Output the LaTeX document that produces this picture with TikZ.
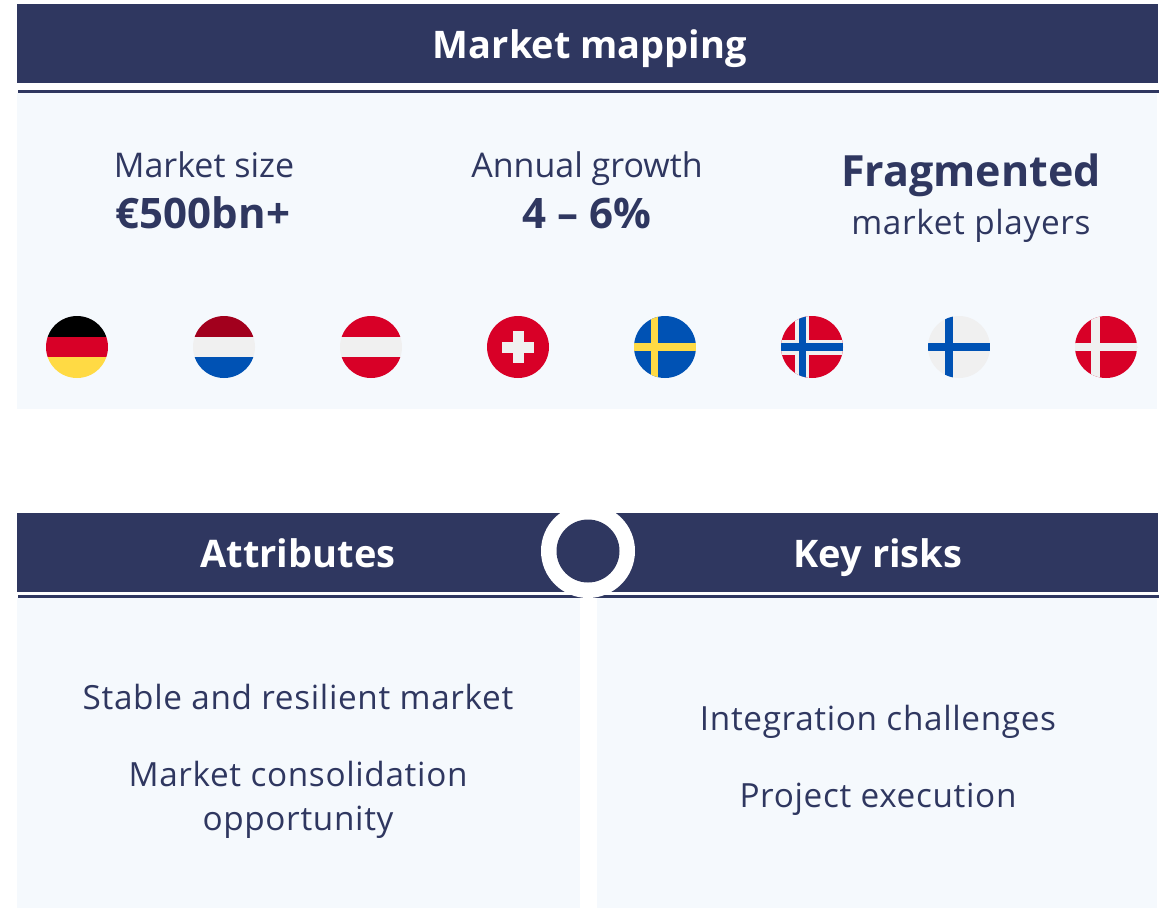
\documentclass[tikz,border=0pt]{standalone}
\usepackage{fontspec}
\setmainfont{Open Sans}
\newfontfamily\spacedfont[LetterSpace=2]{Open Sans}
\definecolor{navy}{HTML}{2F3760}
\definecolor{panel}{HTML}{F5F9FD}
\definecolor{flagred}{HTML}{D80027}
\definecolor{flagdred}{HTML}{A2001D}
\definecolor{flagwhite}{HTML}{F0F0F0}
\definecolor{flagblue}{HTML}{0052B4}
\definecolor{flagyellow}{HTML}{FFDA44}
\tikzset{
  hdr/.style={font=\fontsize{38}{44}\selectfont\bfseries, text=white, anchor=base, inner sep=0},
  big/.style={font=\fontsize{42}{48}\selectfont\bfseries, text=navy, anchor=base, inner sep=0},
  bigger/.style={font=\fontsize{43}{49}\selectfont\bfseries, text=navy, anchor=base, inner sep=0},
  lbl/.style={font=\fontsize{34}{40}\selectfont, text=navy, anchor=base, inner sep=0},
  body/.style={font=\spacedfont\fontsize{33.3}{38}\selectfont, text=navy, anchor=base, inner sep=0},
}
\begin{document}
\begin{tikzpicture}[x=1pt,y=-1pt]
\useasboundingbox[fill=white] (0,0) rectangle (1173,908);
% top header
\fill[navy] (17,4) rectangle (1158,83);
\fill[navy] (18,89.5) rectangle (1159,92.5);
\fill[panel] (17,93) rectangle (1157,409);
\node[hdr] (title) at (590,58) {Market mapping};
\node[lbl] (msize) at (204,177) {Market size};
\node[big] (mval) at (203,228) {€500bn+};
\node[lbl] (agrow) at (587,177) {Annual growth};
\node[big] (aval) at (587,228) {4 – 6\%};
\node[bigger] (frag) at (971,186) {Fragmented};
\node[body] (mplay) at (971,234) {market players};
% flags
\begin{scope}[shift={(77,347)}]
  \clip (0,0) circle (31pt);
  \fill[black] (-32,-32) rectangle (32,-10.3);
  \fill[flagred] (-32,-10.3) rectangle (32,10.3);
  \fill[flagyellow] (-32,10.3) rectangle (32,32);
\end{scope}
\begin{scope}[shift={(224,347)}]
  \clip (0,0) circle (31pt);
  \fill[flagdred] (-32,-32) rectangle (32,-10.3);
  \fill[flagwhite] (-32,-10.3) rectangle (32,10.3);
  \fill[flagblue] (-32,10.3) rectangle (32,32);
\end{scope}
\begin{scope}[shift={(371,347)}]
  \clip (0,0) circle (31pt);
  \fill[flagred] (-32,-32) rectangle (32,-10.3);
  \fill[flagwhite] (-32,-10.3) rectangle (32,10.3);
  \fill[flagred] (-32,10.3) rectangle (32,32);
\end{scope}
\begin{scope}[shift={(518,347)}]
  \fill[flagred] (0,0) circle (31pt);
  \fill[flagwhite] (-16,-5.5) rectangle (16,5.5);
  \fill[flagwhite] (-5.5,-16) rectangle (5.5,16);
\end{scope}
\begin{scope}[shift={(665,347)}]
  \clip (0,0) circle (31pt);
  \fill[flagblue] (-32,-32) rectangle (32,32);
  \fill[flagyellow] (-14.3,-32) rectangle (-6.7,32);
  \fill[flagyellow] (-32,-4) rectangle (32,4);
\end{scope}
\begin{scope}[shift={(812,347)}]
  \clip (0,0) circle (31pt);
  \fill[flagred] (-32,-32) rectangle (32,32);
  \fill[flagwhite] (-17,-32) rectangle (-3,32);
  \fill[flagwhite] (-32,-7.5) rectangle (32,7.5);
  \fill[flagblue] (-13.5,-32) rectangle (-6.5,32);
  \fill[flagblue] (-32,-4) rectangle (32,4);
\end{scope}
\begin{scope}[shift={(959,347)}]
  \clip (0,0) circle (31pt);
  \fill[flagwhite] (-32,-32) rectangle (32,32);
  \fill[flagblue] (-14,-32) rectangle (-6,32);
  \fill[flagblue] (-32,-4) rectangle (32,4);
\end{scope}
\begin{scope}[shift={(1106,347)}]
  \clip (0,0) circle (31pt);
  \fill[flagred] (-32,-32) rectangle (32,32);
  \fill[flagwhite] (-15,-32) rectangle (-6.5,32);
  \fill[flagwhite] (-32,-4) rectangle (32,4);
\end{scope}
% lower header
\fill[navy] (17,513) rectangle (1158,592);
\fill[navy] (18,595) rectangle (1159,597.5);
\fill[panel] (17,598) rectangle (580,908);
\fill[panel] (597,598) rectangle (1157,908);
\fill[white] (588,551) circle (47pt);
\fill[navy] (588,551) circle (31.5pt);
\node[hdr] (attr) at (298,567) {Attributes};
\node[hdr] (risks) at (878,567) {Key risks};
\node[body] (a1) at (298,709) {Stable and resilient market};
\node[body] (a2) at (298,786) {Market consolidation};
\node[body] (a3) at (298,830) {opportunity};
\node[body] (r1) at (878,730.5) {Integration challenges};
\node[body] (r2) at (878,807.5) {Project execution};
\end{tikzpicture}
\end{document}
